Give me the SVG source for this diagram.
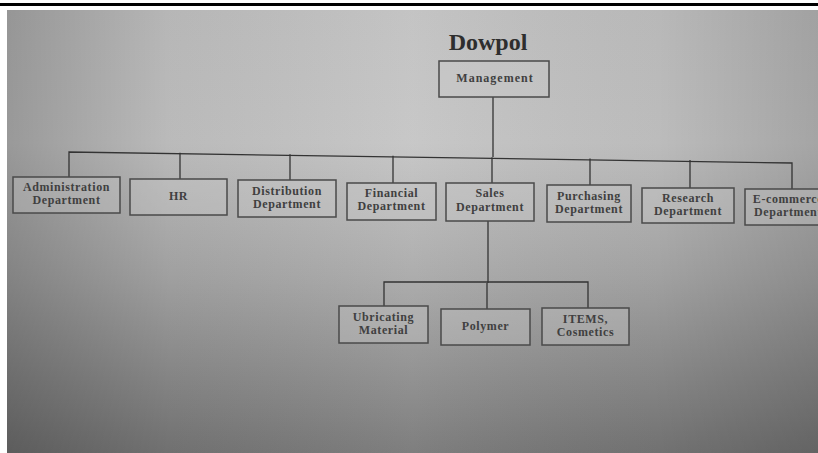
<svg xmlns="http://www.w3.org/2000/svg" width="818" height="453" viewBox="0 0 818 453">
<defs>
<linearGradient id="bgv" x1="0" y1="0" x2="0" y2="1">
<stop offset="0" stop-color="#c0c0c0"/>
<stop offset="0.3" stop-color="#c4c4c4"/>
<stop offset="0.6" stop-color="#a8a8a8"/>
<stop offset="1" stop-color="#767676"/>
</linearGradient>
<linearGradient id="bgh" x1="0" y1="0" x2="1" y2="0">
<stop offset="0" stop-color="#000" stop-opacity="0.22"/>
<stop offset="0.2" stop-color="#000" stop-opacity="0.05"/>
<stop offset="0.5" stop-color="#fff" stop-opacity="0.06"/>
<stop offset="0.8" stop-color="#000" stop-opacity="0.04"/>
<stop offset="1" stop-color="#000" stop-opacity="0.16"/>
</linearGradient>
<style>
.box{fill:#cbcbcb;fill-opacity:0.35;stroke:#4a4a4a;stroke-width:1.5}
.lbl{font-family:"Liberation Serif",serif;font-weight:bold;font-size:12px;letter-spacing:0.6px;fill:#404040;text-anchor:middle}
.ln{stroke:#333;stroke-width:1.3;fill:none}
</style>
</defs>
<rect x="0" y="0" width="818" height="453" fill="#fff"/>
<rect x="0" y="3" width="818" height="3" fill="#000"/>
<rect x="7" y="10" width="811" height="443" fill="url(#bgv)"/>
<rect x="7" y="10" width="811" height="443" fill="url(#bgh)"/>
<text x="488" y="50" style="font-family:'Liberation Serif',serif;font-weight:bold;font-size:24px;fill:#2e2e2e;text-anchor:middle">Dowpol</text>
<g id="connectors">
<path class="ln" d="M493 97 V157"/>
<path class="ln" d="M69 177 V152 L792 163 V189"/>
<path class="ln" d="M180 152.8 V179"/>
<path class="ln" d="M290 154.3 V180"/>
<path class="ln" d="M393 155.7 V183"/>
<path class="ln" d="M492 157.2 V183"/>
<path class="ln" d="M590 158.6 V185"/>
<path class="ln" d="M690 160 V188"/>
<path class="ln" d="M488 221 V283"/>
<path class="ln" d="M384 306 V282 H588 V308"/>
<path class="ln" d="M487 283 V309"/>
</g>
<g id="management"><rect class="box" x="439" y="61" width="110" height="36"/><text class="lbl" x="495" y="82" style="letter-spacing:1px">Management</text></g>
<g id="administration"><rect class="box" x="13" y="177" width="107" height="36"/><text class="lbl" x="66.5" y="191">Administration</text><text class="lbl" x="66.5" y="204">Department</text></g>
<g id="hr"><rect class="box" x="130" y="179" width="97" height="36"/><text class="lbl" x="178.5" y="200">HR</text></g>
<g id="distribution"><rect class="box" x="238" y="180" width="98" height="37"/><text class="lbl" x="287" y="195">Distribution</text><text class="lbl" x="287" y="208">Department</text></g>
<g id="financial"><rect class="box" x="347" y="183" width="89" height="37"/><text class="lbl" x="391.5" y="197">Financial</text><text class="lbl" x="391.5" y="210">Department</text></g>
<g id="sales"><rect class="box" x="446" y="183" width="88" height="38"/><text class="lbl" x="490" y="197">Sales</text><text class="lbl" x="490" y="211">Department</text></g>
<g id="purchasing"><rect class="box" x="547" y="185" width="84" height="37"/><text class="lbl" x="589" y="200">Purchasing</text><text class="lbl" x="589" y="213">Department</text></g>
<g id="research"><rect class="box" x="642" y="188" width="92" height="35"/><text class="lbl" x="688" y="202">Research</text><text class="lbl" x="688" y="215">Department</text></g>
<g id="ecommerce"><rect class="box" x="745" y="189" width="80" height="36"/><text class="lbl" x="788" y="203">E-commerce</text><text class="lbl" x="788" y="216">Department</text></g>
<g id="ubricating"><rect class="box" x="339" y="306" width="89" height="37"/><text class="lbl" x="383.5" y="321">Ubricating</text><text class="lbl" x="383.5" y="334">Material</text></g>
<g id="polymer"><rect class="box" x="441" y="309" width="89" height="36"/><text class="lbl" x="485.5" y="330">Polymer</text></g>
<g id="items"><rect class="box" x="542" y="308" width="87" height="37"/><text class="lbl" x="585.5" y="323">ITEMS,</text><text class="lbl" x="585.5" y="336">Cosmetics</text></g>
</svg>
